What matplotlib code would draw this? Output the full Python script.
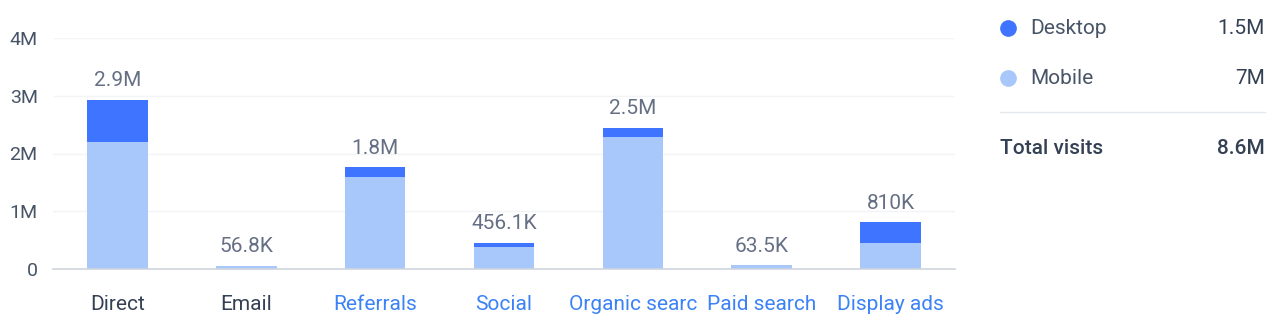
import matplotlib.pyplot as plt
from matplotlib.ticker import FuncFormatter
import numpy as np

plt.rcParams['font.family'] = ['Roboto', 'DejaVu Sans']

categories = ["Direct", "Email", "Referrals", "Social", "Organic searc", "Paid search", "Display ads"]
desktop = [0.73e6, 0.0, 0.17e6, 0.076e6, 0.17e6, 0.0, 0.36e6]
mobile = [2.2e6, 0.0568e6, 1.59e6, 0.38e6, 2.28e6, 0.0635e6, 0.45e6]
total_labels = ["2.9M", "56.8K", "1.8M", "456.1K", "2.5M", "63.5K", "810K"]
label_is_link = [False, False, True, True, True, True, True]

legend_names = ["Desktop", "Mobile"]
legend_values = ["1.5M", "7M"]
total_text = "8.6M"

c_desktop = "#3e74ff"
c_mobile = "#a8c7fb"
c_dark = "#344054"
c_grey = "#667085"
c_link = "#3b82f6"

fig = plt.figure(figsize=(12.83, 3.31), dpi=100)
ax = fig.add_axes([53 / 1283, 62 / 331, 902 / 1283, 231 / 331])

x = np.arange(len(categories))
ax.bar(x, mobile, width=0.47, color=c_mobile, zorder=2)
ax.bar(x, desktop, width=0.47, bottom=mobile, color=c_desktop, zorder=2)

tops = np.array(mobile) + np.array(desktop)
for xi, t, lab in zip(x, tops, total_labels):
    ax.annotate(lab, (xi, t), xytext=(0, 7), textcoords="offset points",
                ha="center", va="bottom", fontsize=15, color=c_grey)

ax.set_xlim(-0.5, len(categories) - 0.5)
ax.set_ylim(0, 4e6)
ax.set_yticks([0, 1e6, 2e6, 3e6, 4e6])
ax.yaxis.set_major_formatter(FuncFormatter(lambda v, p: "0" if v == 0 else f"{v / 1e6:.0f}M"))
ax.grid(axis="y", color="#f2f4f7", linewidth=1, zorder=0)
ax.set_axisbelow(True)
for s in ["top", "right", "left"]:
    ax.spines[s].set_visible(False)
ax.spines["bottom"].set_color("#d0d5dd")
ax.spines["bottom"].set_linewidth(1.2)
ax.spines["bottom"].set_zorder(3)
ax.tick_params(axis="y", length=0, pad=11, labelsize=14, labelcolor="#475467")
ax.tick_params(axis="x", length=0, pad=19, labelsize=15)
ax.set_xticks(x)
ax.set_xticklabels(categories)
for tl, link in zip(ax.get_xticklabels(), label_is_link):
    tl.set_color(c_link if link else c_dark)

# legend panel on the right
def fx(px):
    return px / 1283

def fy(py):
    return 1 - py / 331

for i, (name, val, col) in enumerate(zip(legend_names, legend_values, [c_desktop, c_mobile])):
    yy = fy(28 + 50 * i)
    fig.add_artist(plt.Line2D([fx(1008)], [yy], marker="o", markersize=11, color=col,
                              linestyle="none", transform=fig.transFigure))
    fig.text(fx(1030), yy, name, color="#475467", fontsize=15, ha="left", va="center")
    fig.text(fx(1265), yy, val, color=c_dark, fontsize=15, ha="right", va="center")

fig.add_artist(plt.Line2D([fx(1000), fx(1265)], [fy(112), fy(112)], color="#e4e7ec",
                          linewidth=1, transform=fig.transFigure))
fig.text(fx(1000), fy(148), "Total visits", color=c_dark, fontsize=15, fontweight="medium",
         ha="left", va="center")
fig.text(fx(1265), fy(148), total_text, color=c_dark, fontsize=15, fontweight="medium",
         ha="right", va="center")

fig.savefig("out.png", dpi=100)
